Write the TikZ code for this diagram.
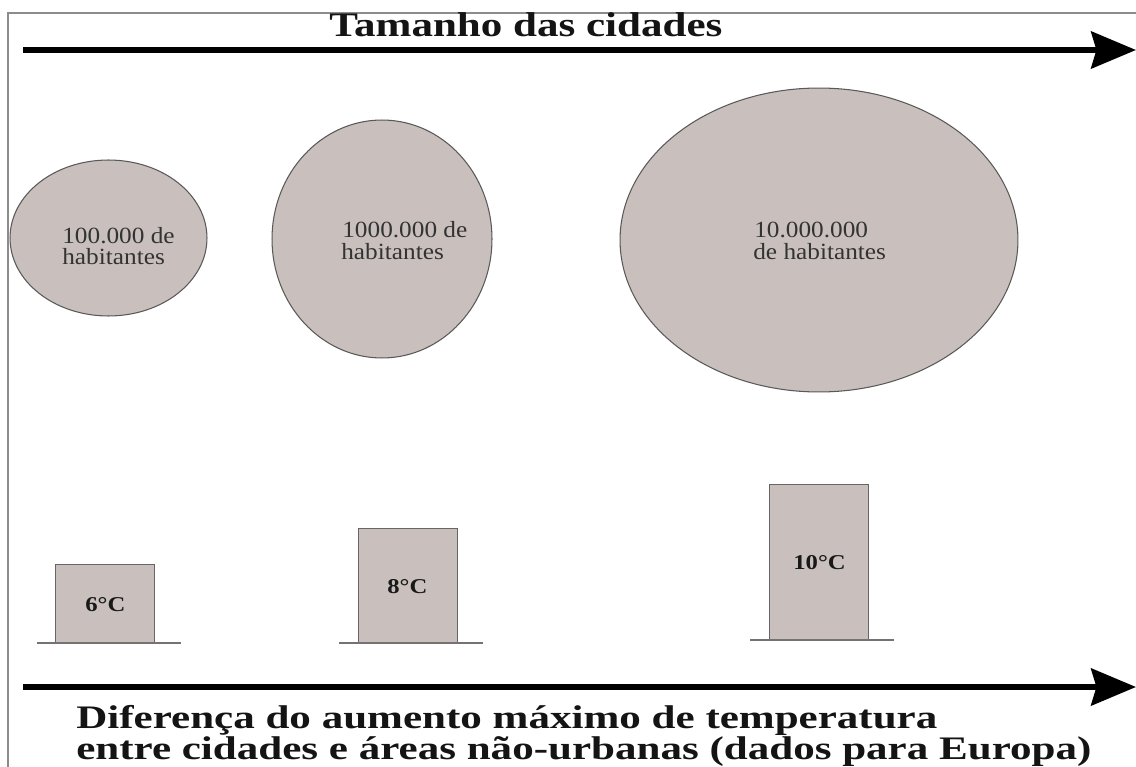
\documentclass[tikz,border=0pt]{standalone}
\usepackage{fontspec}
\setmainfont{Liberation Serif}
\usepackage{graphicx}
\usetikzlibrary{arrows.meta,shapes.geometric}
\definecolor{cityfill}{RGB}{201,192,189}
\begin{document}
\begin{tikzpicture}[x=0.02cm,y=-0.02cm,
  city/.style={ellipse, draw=black!65, line width=0.6pt, fill=cityfill, inner sep=0},
  bar/.style={rectangle, draw=black!60, line width=0.8pt, fill=cityfill, inner sep=0, anchor=south west, minimum width=1.98cm},
  ground/.style={draw=black!55, line width=0.8pt},
  axis/.style={line width=3.4pt, -{Stealth[length=25.5pt,width=21pt,inset=3pt]}},
  frame/.style={draw=black!45, line width=1.2pt},
  poptext/.style={anchor=base west, inner sep=0, text=black!80, font=\fontsize{13.2}{15}\selectfont},
  templabel/.style={anchor=base west, inner sep=0, text=black!90, font=\bfseries\fontsize{12}{14}\selectfont},
  heading/.style={anchor=base west, inner sep=0, text=black!92, font=\bfseries\fontsize{19.6}{22}\selectfont},
  caption/.style={anchor=base west, inner sep=0, text=black!92, font=\bfseries\fontsize{18.7}{21}\selectfont}]

\useasboundingbox (0,0) rectangle (1136,767);
\fill[white] (0,0) rectangle (1136,767);

% frame
\coordinate (fbl) at (8,767);
\coordinate (ftl) at (8,13);
\coordinate (ftr) at (1136,13);
\draw[frame] (fbl) -- (ftl) -- (ftr);

% title and top axis
\node[heading] (title) at (329,37) {\scalebox{1.25}[1]{Tamanho das cidades}};
\coordinate (a1s) at (23,50);
\coordinate (a1e) at (1136,50);
\draw[axis] (a1s) -- (a1e);

% cities
\node[city, minimum width=3.94cm, minimum height=3.12cm] (c1) at (108.5,238) {};
\node[city, minimum width=4.4cm, minimum height=4.76cm] (c2) at (382,239) {};
\node[city, minimum width=7.96cm, minimum height=6.08cm] (c3) at (819,240) {};

\node[poptext] (t1a) at (62,243) {\scalebox{1.09}[1]{100.000 de}};
\node[poptext] (t1b) at (62,264) {\scalebox{1.09}[1]{habitantes}};
\node[poptext] (t2a) at (342,237) {\scalebox{1.09}[1]{1000.000 de}};
\node[poptext] (t2b) at (341,259) {\scalebox{1.09}[1]{habitantes}};
\node[poptext] (t3a) at (754,237) {\scalebox{1.09}[1]{10.000.000}};
\node[poptext] (t3b) at (753,259) {\scalebox{1.09}[1]{de habitantes}};

% temperature bars
\node[bar, minimum height=1.56cm] (b1) at (55,643) {};
\node[bar, minimum height=2.28cm] (b2) at (358,643) {};
\node[bar, minimum height=3.1cm] (b3) at (769,640) {};
\coordinate (g1a) at (37,643); \coordinate (g1b) at (181,643);
\coordinate (g2a) at (339,643); \coordinate (g2b) at (483,643);
\coordinate (g3a) at (750,640); \coordinate (g3b) at (894,640);
\draw[ground] (g1a) -- (g1b);
\draw[ground] (g2a) -- (g2b);
\draw[ground] (g3a) -- (g3b);

\node[templabel] (l1) at (85,611) {\scalebox{1.17}[1]{6°C}};
\node[templabel] (l2) at (387,593) {\scalebox{1.17}[1]{8°C}};
\node[templabel] (l3) at (793,569) {\scalebox{1.17}[1]{10°C}};

% bottom axis and caption
\coordinate (a2s) at (23,687);
\coordinate (a2e) at (1136,687);
\draw[axis] (a2s) -- (a2e);
\node[caption] (d1) at (76,728) {\scalebox{1.31}[1]{Diferença do aumento máximo de temperatura}};
\node[caption] (d2) at (76,759) {\scalebox{1.31}[1]{entre cidades e áreas não-urbanas (dados para Europa)}};
\end{tikzpicture}
\end{document}
